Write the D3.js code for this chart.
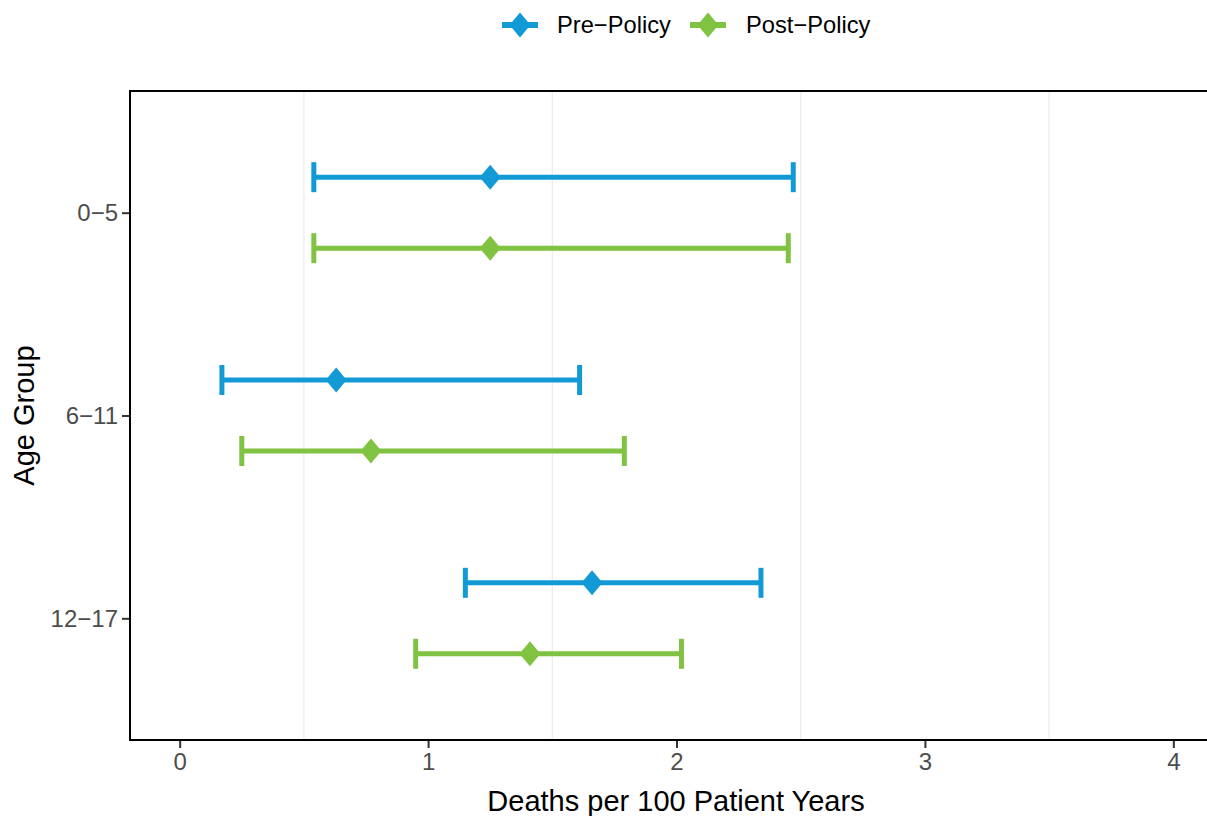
<!DOCTYPE html>
<html>
<head>
<meta charset="utf-8">
<script src="https://cdn.jsdelivr.net/npm/d3@7"></script>
<style>
  html, body { margin: 0; padding: 0; background: #fff; }
  svg { display: block; font-family: "Liberation Sans", Arial, sans-serif; }
</style>
</head>
<body>
<svg id="chart" width="1207" height="816"></svg>
<script>
// ---- data ----
const categories = ["0\u22125", "6\u221211", "12\u221217"];
const seriesNames = ["Pre\u2212Policy", "Post\u2212Policy"];
const preEst  = [1.25, 0.63, 1.66];
const preLow  = [0.54, 0.17, 1.15];
const preHigh = [2.47, 1.61, 2.34];
const postEst  = [1.25, 0.77, 1.41];
const postLow  = [0.54, 0.25, 0.95];
const postHigh = [2.45, 1.79, 2.02];
const xTicks = [0, 1, 2, 3, 4];
const xMinorGrid = [0.5, 1.5, 2.5, 3.5];
const colors = ["#129ad6", "#80c241"];

const rows = [];
categories.forEach((c, i) => {
  rows.push({cat: c, s: 0, est: preEst[i], lo: preLow[i], hi: preHigh[i]});
  rows.push({cat: c, s: 1, est: postEst[i], lo: postLow[i], hi: postHigh[i]});
});

// ---- layout ----
const svg = d3.select("#chart");
const panel = {left: 130, top: 91, right: 1223, bottom: 740};

const x = d3.scaleLinear().domain([-0.2, 4.2]).range([panel.left, panel.right]);
const y = d3.scalePoint().domain(categories).range([panel.top, panel.bottom]).padding(0.6);
const dodge = 0.175 * y.step();
const yPos = d => y(d.cat) + (d.s === 0 ? -dodge : dodge);

// gridlines
svg.append("g").selectAll("line").data(xMinorGrid).join("line")
  .attr("x1", d => x(d)).attr("x2", d => x(d))
  .attr("y1", panel.top).attr("y2", panel.bottom)
  .attr("stroke", "#ebebeb").attr("stroke-width", 1.2);

// error bars
const g = svg.append("g");
const capH = 15;
const lw = 5;
rows.forEach(d => {
  const yy = yPos(d);
  const col = colors[d.s];
  g.append("line").attr("x1", x(d.lo)).attr("x2", x(d.hi)).attr("y1", yy).attr("y2", yy)
    .attr("stroke", col).attr("stroke-width", lw);
  [d.lo, d.hi].forEach(v => {
    g.append("line").attr("x1", x(v)).attr("x2", x(v)).attr("y1", yy - capH).attr("y2", yy + capH)
      .attr("stroke", col).attr("stroke-width", lw);
  });
});
// diamonds
const dw = 10.5, dh = 12.5;
const diamond = (cx, cy) => `M${cx},${cy - dh}L${cx + dw},${cy}L${cx},${cy + dh}L${cx - dw},${cy}Z`;
g.selectAll("path.pt").data(rows).join("path").attr("class", "pt")
  .attr("d", d => diamond(x(d.est), yPos(d)))
  .attr("fill", d => colors[d.s]);

// panel border
svg.append("rect").attr("x", panel.left).attr("y", panel.top)
  .attr("width", panel.right - panel.left).attr("height", panel.bottom - panel.top)
  .attr("fill", "none").attr("stroke", "#000").attr("stroke-width", 2);

// x axis
const xAxis = svg.append("g").attr("transform", `translate(0,${panel.bottom + 1})`)
  .call(d3.axisBottom(x).tickValues(xTicks).tickFormat(d3.format("d")).tickSize(7).tickPadding(5));
xAxis.select(".domain").remove();
xAxis.selectAll(".tick line").attr("stroke", "#333").attr("stroke-width", 2);
xAxis.selectAll(".tick text").attr("fill", "#4d4d4d").style("font-size", "24px")
  .style("font-family", "Liberation Sans, Arial, sans-serif");

// y axis
const yAxis = svg.append("g").attr("transform", `translate(${panel.left - 1},0)`)
  .call(d3.axisLeft(y).tickSize(7).tickPadding(4));
yAxis.select(".domain").remove();
yAxis.selectAll(".tick line").attr("stroke", "#333").attr("stroke-width", 2);
yAxis.selectAll(".tick text").attr("fill", "#4d4d4d").style("font-size", "24px")
  .style("font-family", "Liberation Sans, Arial, sans-serif");

// axis titles
svg.append("text").attr("x", 676).attr("y", 811).attr("text-anchor", "middle")
  .style("font-size", "29px").attr("fill", "#000").text("Deaths per 100 Patient Years");
svg.append("text").attr("transform", `translate(34,${(panel.top + panel.bottom) / 2}) rotate(-90)`)
  .attr("text-anchor", "middle").style("font-size", "29px").attr("fill", "#000").text("Age Group");

// legend
const legendX = [520, 708];
const legendTextX = [557, 746];
const ly = 25;
seriesNames.forEach((name, i) => {
  const lg = svg.append("g");
  lg.append("line").attr("x1", legendX[i] - 18).attr("x2", legendX[i] + 18)
    .attr("y1", ly).attr("y2", ly).attr("stroke", colors[i]).attr("stroke-width", 6);
  lg.append("path").attr("d", diamond(legendX[i], ly)).attr("fill", colors[i]);
  lg.append("text").attr("x", legendTextX[i]).attr("y", ly).attr("dy", "0.35em")
    .style("font-size", "23.7px").attr("fill", "#000").text(name);
});
</script>
</body>
</html>
